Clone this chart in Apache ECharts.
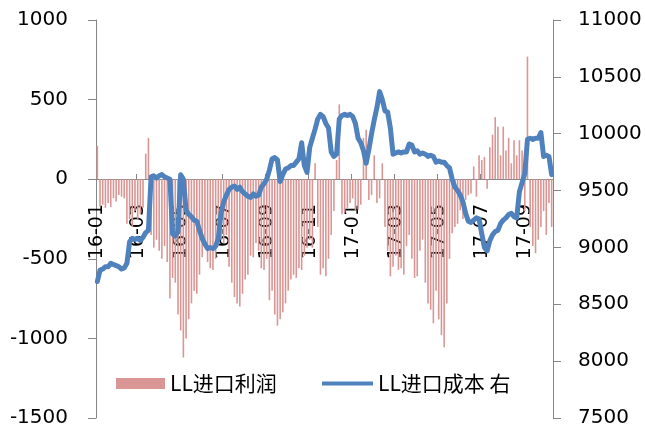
<!DOCTYPE html>
<html>
<head>
<meta charset="utf-8">
<script src="https://cdn.jsdelivr.net/npm/echarts@6/dist/echarts.min.js"></script>
<style>
html, body { margin: 0; padding: 0; background: #fff; }
#chart { width: 645px; height: 429px; }
</style>
</head>
<body>
<div id="chart"></div>
<script>
// tick labels on the date axis and the point index each one sits on
const monthLabels = ['16-01', '16-03', '16-05', '16-07', '16-09', '16-11', '17-01', '17-03', '17-05', '17-07', '17-09'];
const monthIndex = [0, 15, 31, 47, 63, 79, 95, 111, 127, 143, 159];

// LL进口利润 (left axis)
const profit = [
  210, -170, -160, -180, -150, -175, -120, -140, -100, -110,
  -120, -280, -250, -300, -200, -250, -220, -180, 160, 260,
  -350, -430, -380, -450, -500, -420, -520, -750, -620, -650,
  -850, -950, -1120, -1000, -880, -780, -700, -720, -600, -490,
  -420, -520, -560, -570, -500, -420, -380, -400, -350, -550,
  -650, -740, -780, -800, -720, -630, -600, -480, -490, -400,
  -450, -560, -570, -500, -760, -700, -850, -920, -880, -835,
  -780, -700, -630, -600, -620, -560, -570, -480, -430, -380,
  -430, 100, -300, -600, -560, -610, -500, -350, -200, 120,
  470, -220, -210, -180, -150, -120, -200, -190, -160, 260,
  310, -130, -100, 150, -150, -120, 100, -300, -450, -610,
  -550, -480, -570, -560, -600, -420, -350, -500, -620, -610,
  -450, -380, -650, -780, -820, -905, -700, -880, -980, -1055,
  -780, -500, -340, -300, -280, -195, -250, -130, -100, -90,
  80, -110, 150, 120, 140, -60, 200, 280, 390, 330,
  150, 330, 180, 260, 100, 245, 150, 245, 180, -200,
  770, -300, -420, -465, -380, -300, -200, -350, -150, -300
];

// LL进口成本 (right axis)
const cost = [
  8700, 8800, 8810, 8830, 8830, 8860, 8850, 8840, 8830, 8810,
  8820, 8860, 9050, 9080, 9070, 9080, 9060, 9090, 9130, 9150,
  9620, 9630, 9610, 9630, 9640, 9620, 9610, 9600, 9120, 9100,
  9140, 9640, 9600, 9330, 9290, 9270, 9240, 9230, 9150, 9080,
  9030, 8990, 9000, 8990, 9010, 9080, 9300, 9400, 9460, 9510,
  9530, 9540, 9510, 9530, 9490, 9470, 9450, 9440, 9470, 9450,
  9460, 9530, 9560, 9600, 9680, 9780, 9790, 9770, 9580, 9640,
  9690, 9700, 9720, 9720, 9750, 9780, 9920, 9720, 9660, 9880,
  9960, 10040, 10130, 10170, 10150, 10090, 10050, 9840, 9800, 9820,
  10130, 10160, 10170, 10160, 10170, 10150, 10090, 9960, 9920, 9850,
  9740, 9860, 10000, 10120, 10230, 10370, 10300, 10200, 10190, 10050,
  9820, 9830, 9840, 9830, 9840, 9840, 9910, 9900, 9840, 9850,
  9820, 9830, 9820, 9800, 9810, 9800, 9750, 9760, 9750, 9750,
  9720, 9700, 9600, 9530, 9500, 9460, 9400, 9300, 9230, 9220,
  9240, 9260, 9250, 9120, 9000, 8970, 9060, 9110, 9140, 9150,
  9210, 9240, 9260, 9290, 9300, 9270, 9260, 9490, 9570, 9650,
  9950, 9960, 9950, 9960, 9960, 10010, 9800, 9810, 9800, 9640
];

const categories = profit.map((v, i) => String(i));
const labelAt = {};
monthIndex.forEach((idx, k) => { labelAt[idx] = monthLabels[k]; });
const showAt = (idx) => labelAt[idx] !== undefined;

const axisGray = '#868686';
const numFont = 'DejaVu Sans';
const cjkFont = 'Noto Sans CJK SC';

// grid is 398px tall, the left axis zero sits 239px above its bottom
const zeroOffset = -239;

const chart = echarts.init(document.getElementById('chart'));
const option = {
  backgroundColor: '#fff',
  animation: false,
  grid: { left: 96, right: 92, top: 20, bottom: 11, containLabel: false, outerBoundsMode: 'none' },
  legend: [
    {
      data: ['LL进口利润'],
      left: 116,
      top: 373,
      padding: 0,
      icon: 'rect',
      itemWidth: 49,
      itemHeight: 11,
      textStyle: { fontSize: 21, fontFamily: cjkFont, color: '#000' }
    },
    {
      data: ['LL进口成本 右'],
      left: 322,
      top: 373,
      padding: 0,
      icon: 'rect',
      itemWidth: 51,
      itemHeight: 4,
      textStyle: { fontSize: 21, fontFamily: cjkFont, color: '#000' }
    }
  ],
  xAxis: {
    type: 'category',
    data: categories,
    boundaryGap: true,
    position: 'bottom',
    offset: zeroOffset,
    axisLine: { onZero: false, lineStyle: { color: axisGray, width: 1.2 } },
    axisTick: { show: true, inside: true, length: 5, interval: showAt, lineStyle: { color: axisGray } },
    axisLabel: {
      interval: showAt,
      rotate: 90,
      margin: 25,
      fontSize: 19,
      fontFamily: numFont,
      color: '#000',
      formatter: (v, idx) => labelAt[idx] || ''
    },
    splitLine: { show: false }
  },
  yAxis: [
    {
      type: 'value',
      min: -1500,
      max: 1000,
      interval: 500,
      axisLine: { show: true, lineStyle: { color: axisGray } },
      axisTick: { show: true, length: 8, lineStyle: { color: axisGray } },
      axisLabel: { margin: 28, fontSize: 20, fontFamily: numFont, color: '#000', formatter: (v) => String(v) },
      splitLine: { show: false }
    },
    {
      type: 'value',
      min: 7500,
      max: 11000,
      interval: 500,
      position: 'right',
      axisLine: { show: true, lineStyle: { color: axisGray } },
      axisTick: { show: true, length: 8, lineStyle: { color: axisGray } },
      axisLabel: { margin: 25, fontSize: 20, fontFamily: numFont, color: '#000', formatter: (v) => String(v) },
      splitLine: { show: false }
    }
  ],
  series: [
    {
      name: 'LL进口利润',
      type: 'bar',
      yAxisIndex: 0,
      data: profit,
      barWidth: 1.6,
      itemStyle: { color: '#D99694' }
    },
    {
      name: 'LL进口成本 右',
      type: 'line',
      yAxisIndex: 1,
      data: cost,
      symbol: 'none',
      lineStyle: { color: '#4F81BD', width: 5, join: 'round', cap: 'round' },
      itemStyle: { color: '#4F81BD' },
      z: 3
    }
  ]
};
chart.setOption(option);
</script>
</body>
</html>
